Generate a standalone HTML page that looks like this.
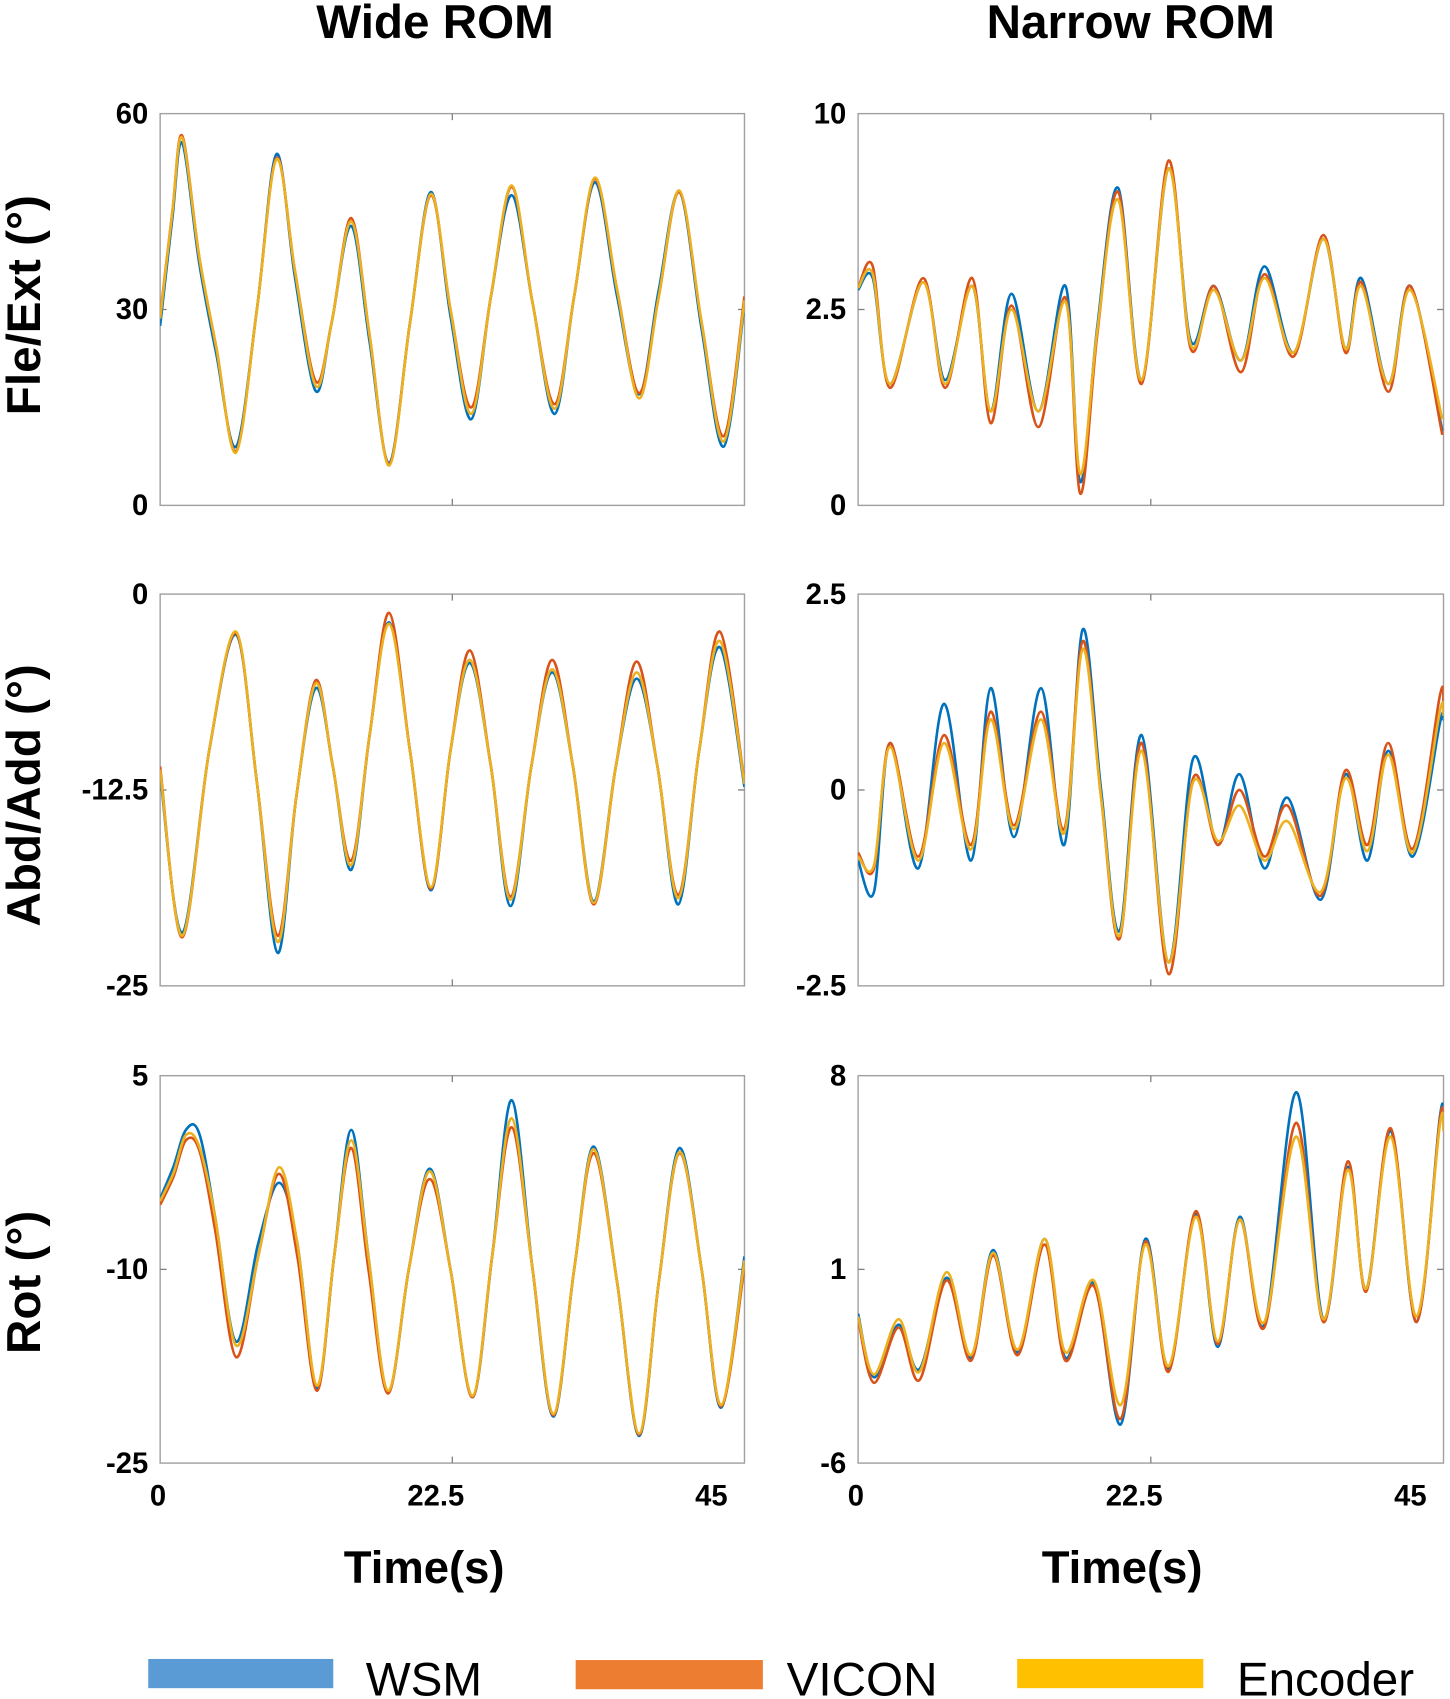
<!DOCTYPE html>
<html><head><meta charset="utf-8">
<style>
html,body{margin:0;padding:0;background:#fff;}
svg{display:block;}
text{font-family:"Liberation Sans",sans-serif;}
</style></head>
<body>
<svg id="fig" width="1450" height="1699" viewBox="0 0 1340 1570" preserveAspectRatio="none" xmlns="http://www.w3.org/2000/svg">
<text x="402" y="35" font-size="44" font-weight="bold" text-anchor="middle">Wide ROM</text>
<text x="1045" y="35" font-size="44" font-weight="bold" text-anchor="middle">Narrow ROM</text>
<text transform="translate(37,282) rotate(-90)" font-size="44" font-weight="bold" text-anchor="middle">Fle/Ext (°)</text>
<text transform="translate(37,735) rotate(-90)" font-size="44" font-weight="bold" text-anchor="middle">Abd/Add (°)</text>
<text transform="translate(37,1185) rotate(-90)" font-size="44" font-weight="bold" text-anchor="middle">Rot (°)</text>
<text x="392" y="1463" font-size="42" font-weight="bold" text-anchor="middle">Time(s)</text>
<text x="1037" y="1463" font-size="42" font-weight="bold" text-anchor="middle">Time(s)</text>
<g>
<rect x="137" y="1533" width="171" height="27" fill="#5b9bd5"/>
<text x="338" y="1567" font-size="44">WSM</text>
<rect x="532" y="1534" width="173" height="27" fill="#ed7d31"/>
<text x="727" y="1567" font-size="44">VICON</text>
<rect x="940" y="1533" width="172" height="27" fill="#ffc000"/>
<text x="1143" y="1567" font-size="44">Encoder</text>
</g>
<g id="panels"></g>
</svg>
<script>
// ---- Panel 1: Wide Fle/Ext ----
const p1Times = [0,1.0,1.8,3.2,4.6,6.2,7.9,9.5,11.0,12.7,14.0,15.6,17.1,18.7,20.4,22.1,23.7,25.4,27.0,28.7,30.4,32.2,33.8,35.5,37.3,39.1,40.7,42.4,44.2,46.0,47.7];
const p1Enc  = [28.6,45,56.3,38,24,8.1,30,53,36,18.3,28,43.5,26,6.1,28,47.7,30,14,32,49,31,14.8,32,50.2,33,16.4,32,48.2,28,9.8,31.4];
const p1Vic  = [29.0,45,56.6,38,24,8.3,30,53.2,36,19.0,28,44.0,26,6.3,28,47.5,30,15.0,32,48.8,31,15.5,32,50.0,33,17.2,32,48.0,28,10.6,32.0];
const p1Wsm  = [27.5,44,55.5,37,23,9.0,30,53.8,35,17.5,28,42.8,25,6.5,28,48.0,29,13.2,32,47.5,31,14.0,32,49.5,32,17.0,33,48.0,27,9.0,30.8];
// ---- Panel 2: Wide Abd/Add ----
const p2Times = [0,1.8,4.0,6.2,7.9,9.6,11.1,12.7,14.1,15.6,17.1,18.7,20.4,22.1,23.7,25.3,27.0,28.6,30.3,32.0,33.7,35.4,37.2,38.9,40.6,42.3,44.0,45.7,47.7];
const p2Enc  = [-11.2,-21.8,-10,-2.4,-12,-22.2,-13,-5.7,-11,-17.3,-9,-1.9,-10,-18.7,-10,-4.2,-11,-19.5,-11,-4.8,-11,-19.7,-11,-5.0,-11,-19.4,-10,-3.0,-12.1];
const p2Vic  = [-11.0,-21.9,-10,-2.5,-12,-21.8,-13,-5.5,-11,-17.0,-9,-1.2,-10,-18.8,-10,-3.6,-11,-19.3,-11,-4.2,-11,-19.8,-11,-4.3,-11,-19.2,-10,-2.4,-12.0];
const p2Wsm  = [-11.5,-21.6,-10,-2.6,-12,-22.9,-13,-6.0,-11,-17.6,-9,-1.8,-10,-18.9,-10,-4.4,-11,-19.9,-11,-5.0,-11,-19.6,-11,-5.4,-11,-19.8,-10,-3.4,-12.3];
// ---- Panel 3: Wide Rot ----
const p3Times = [0,1.1,2.1,3.2,4.5,6.2,8.0,9.7,11.2,12.8,14.2,15.6,17.0,18.6,20.3,22.0,23.7,25.5,27.1,28.7,30.4,32.1,33.8,35.4,37.3,39.1,40.7,42.4,44.2,45.8,47.7];
const p3Enc  = [-4.7,-2.5,0.4,-0.5,-6,-15.9,-9,-2.1,-8,-19,-9,0.0,-9,-19.4,-10,-2.4,-10,-19.8,-9,1.7,-10,-21.2,-10,-0.7,-11,-22.7,-11,-0.9,-10,-20.5,-9.3];
const p3Vic  = [-5.0,-2.8,0.0,-0.8,-7,-16.8,-9,-2.6,-9,-19.4,-9,-0.6,-10,-19.6,-10,-3.0,-10,-19.9,-9,1.0,-10,-21.3,-10,-1.0,-11,-22.8,-11,-1.0,-10,-20.6,-9.8];
const p3Wsm  = [-4.5,-2.0,0.8,0.5,-6,-15.6,-8,-3.3,-8,-19.2,-9,0.8,-9,-19.5,-10,-2.2,-10,-19.9,-9,3.1,-10,-21.4,-10,-0.5,-11,-22.9,-11,-0.6,-10,-20.7,-9.0];
// ---- Panel 4: Narrow Fle/Ext (axis 0..10) ----
const p4Times = [0,1.2,2.6,5.3,7.1,9.3,10.8,12.5,14.7,16.9,18.1,19.5,21.2,23.1,25.3,27.1,29.0,31.2,33.1,35.5,37.9,39.7,41.0,43.2,45.0,47.6];
const p4Enc  = [5.55,5.9,3.1,5.7,3.1,5.6,2.4,5.0,2.4,5.2,0.8,4.5,7.8,3.2,8.6,4.1,5.5,3.7,5.8,3.9,6.8,4.0,5.6,3.1,5.5,2.2];
const p4Vic  = [5.55,6.1,3.0,5.8,3.0,5.8,2.1,5.1,2.0,5.3,0.3,4.4,8.0,3.1,8.8,4.0,5.6,3.4,5.9,3.8,6.9,3.9,5.7,2.9,5.6,1.8];
const p4Wsm  = [5.5,5.8,3.1,5.7,3.2,5.6,2.4,5.4,2.4,5.6,0.6,4.6,8.1,3.2,8.6,4.2,5.6,3.7,6.1,3.9,6.8,4.0,5.8,3.1,5.6,1.9];
// ---- Panel 5: Narrow Abd/Add ----
const p5Times = [0,1.3,2.6,4.9,7.0,9.2,10.8,12.7,14.9,16.8,18.3,19.8,21.3,23.1,25.3,27.3,29.3,31.1,33.1,35.0,37.7,39.7,41.5,43.2,45.2,47.4,47.7];
const p5Enc  = [-0.85,-0.96,0.55,-0.9,0.6,-0.76,0.9,-0.5,0.9,-0.55,1.8,-0.1,-1.86,0.5,-2.2,0.1,-0.65,-0.2,-0.9,-0.4,-1.3,0.15,-0.78,0.45,-0.8,1.0,0.95];
const p5Vic  = [-0.8,-1.0,0.6,-0.85,0.7,-0.7,1.0,-0.45,1.0,-0.5,1.9,-0.1,-1.9,0.6,-2.35,0.15,-0.7,0.0,-0.85,-0.2,-1.35,0.25,-0.7,0.6,-0.75,1.2,1.1];
const p5Wsm  = [-0.9,-1.3,0.6,-1.0,1.1,-0.9,1.3,-0.6,1.3,-0.7,2.05,0.0,-1.8,0.7,-2.2,0.4,-0.7,0.2,-1.0,-0.1,-1.4,0.2,-0.9,0.5,-0.85,0.85,0.9];
// ---- Panel 6: Narrow Rot ----
const p6Times = [0,1.3,3.3,5.0,7.2,9.2,11.0,13.0,15.2,16.9,19.2,21.4,23.4,25.3,27.5,29.3,31.1,33.1,35.7,37.9,39.9,41.4,43.4,45.5,47.4,47.7];
const p6Enc  = [-0.7,-2.8,-0.8,-2.7,0.9,-2.1,1.6,-1.9,2.1,-2.0,0.6,-3.9,1.9,-2.5,2.9,-1.6,2.8,-0.9,5.8,-0.8,4.6,0.3,5.8,-0.7,6.2,6.0];
const p6Vic  = [-0.8,-3.1,-1.1,-3.0,0.6,-2.3,1.5,-2.1,1.9,-2.3,0.4,-4.4,2.0,-2.7,3.1,-1.7,2.8,-1.1,6.3,-0.9,4.9,0.2,6.1,-0.9,6.4,6.1];
const p6Wsm  = [-0.6,-2.9,-1.0,-2.6,0.7,-2.2,1.7,-2.0,2.1,-2.2,0.5,-4.6,2.1,-2.6,3.0,-1.8,2.9,-1.0,7.4,-0.8,4.7,0.3,6.0,-0.9,6.5,6.3];

// axis tick labels
const yTickLabels = [["60","30","0"],["0","-12.5","-25"],["5","-10","-25"],["10","2.5","0"],["2.5","0","-2.5"],["8","1","-6"]];
const xTickValues = [0,22.5,45];
const xTickLabels = ["0","22.5","45"];
const yDomains = [[0,60],[-25,0],[-25,5],[0,10],[-2.5,2.5],[-6,8]];
const xMax = 47.7;

const panels = [
 {t:p1Times,s:[p1Wsm,p1Vic,p1Enc],col:0,row:0,name:'wide-fle-ext'},
 {t:p2Times,s:[p2Wsm,p2Vic,p2Enc],col:0,row:1,name:'wide-abd-add'},
 {t:p3Times,s:[p3Wsm,p3Vic,p3Enc],col:0,row:2,name:'wide-rot'},
 {t:p4Times,s:[p4Wsm,p4Vic,p4Enc],col:1,row:0,name:'narrow-fle-ext'},
 {t:p5Times,s:[p5Wsm,p5Vic,p5Enc],col:1,row:1,name:'narrow-abd-add'},
 {t:p6Times,s:[p6Wsm,p6Vic,p6Enc],col:1,row:2,name:'narrow-rot'}
];
const colX = [[148,688],[793,1334]];
const rowY = [[105,467],[549,911],[994,1352]];
const colors = ['#0072bd','#d95319','#edb120'];
const seriesNames = ['wsm','vicon','encoder'];
const NS='http://www.w3.org/2000/svg';
const root=document.getElementById('panels');
function mk(tag,attrs){const e=document.createElementNS(NS,tag);for(const k in attrs)e.setAttribute(k,attrs[k]);return e;}
function smooth(pts){
  let d='M'+pts[0][0].toFixed(1)+','+pts[0][1].toFixed(1);
  for(let i=0;i<pts.length-1;i++){
    const p0=pts[Math.max(0,i-1)],p1=pts[i],p2=pts[i+1],p3=pts[Math.min(pts.length-1,i+2)];
    const c1=[p1[0]+(p2[0]-p0[0])/6,p1[1]+(p2[1]-p0[1])/6];
    const c2=[p2[0]-(p3[0]-p1[0])/6,p2[1]-(p3[1]-p1[1])/6];
    d+=' C'+c1[0].toFixed(1)+','+c1[1].toFixed(1)+' '+c2[0].toFixed(1)+','+c2[1].toFixed(1)+' '+p2[0].toFixed(1)+','+p2[1].toFixed(1);
  }
  return d;
}
panels.forEach((p,pi)=>{
  const [x0,x1]=colX[p.col],[y0,y1]=rowY[p.row];
  const [dmin,dmax]=yDomains[pi];
  const xs=v=>x0+(v/xMax)*(x1-x0);
  const ys=v=>y1-(v-dmin)/(dmax-dmin)*(y1-y0);
  const g=mk('g',{});
  
  
  const clipId='clip'+pi;
  const cp=mk('clipPath',{id:clipId});cp.appendChild(mk('rect',{x:x0,y:y0,width:x1-x0,height:y1-y0}));g.appendChild(cp);
  const box=mk('rect',{x:x0,y:y0,width:x1-x0,height:y1-y0,fill:'none',stroke:'#a0a0a0','stroke-width':1.3});
  
  
  g.appendChild(box);
  const xm=(x0+x1)/2, ym=(y0+y1)/2;
  [[xm,y0,xm,y0+6],[xm,y1,xm,y1-6],[x0,ym,x0+6,ym],[x1,ym,x1-6,ym]].forEach(l=>{
    g.appendChild(mk('line',{x1:l[0],y1:l[1],x2:l[2],y2:l[3],stroke:'#808080','stroke-width':1.2}));
  });
  const yl=yTickLabels[pi];
  [y0,ym,y1].forEach((yy,i)=>{
    const t=mk('text',{x:x0-11,y:yy+9,'font-size':27,'font-weight':'bold','text-anchor':'end'});
    
    
    t.textContent=yl[i];g.appendChild(t);
  });
  if(p.row===2){
    xTickValues.forEach((v,i)=>{
      const t=mk('text',{x:xs(v)+(i===0?-2:0),y:1391,'font-size':27,'font-weight':'bold','text-anchor':'middle'});
      
      
      t.textContent=xTickLabels[i];g.appendChild(t);
    });
  }
  const lg=mk('g',{'clip-path':'url(#'+clipId+')'});
  p.s.forEach((vals,si)=>{
    const pts=p.t.map((tt,k)=>[xs(tt),ys(vals[k])]);
    const path=mk('path',{d:smooth(pts),fill:'none',stroke:colors[si],'stroke-width':2.4,'stroke-linejoin':'round'});
    
    
    lg.appendChild(path);
  });
  g.appendChild(lg);
  root.appendChild(g);
});
</script>
</body></html>
